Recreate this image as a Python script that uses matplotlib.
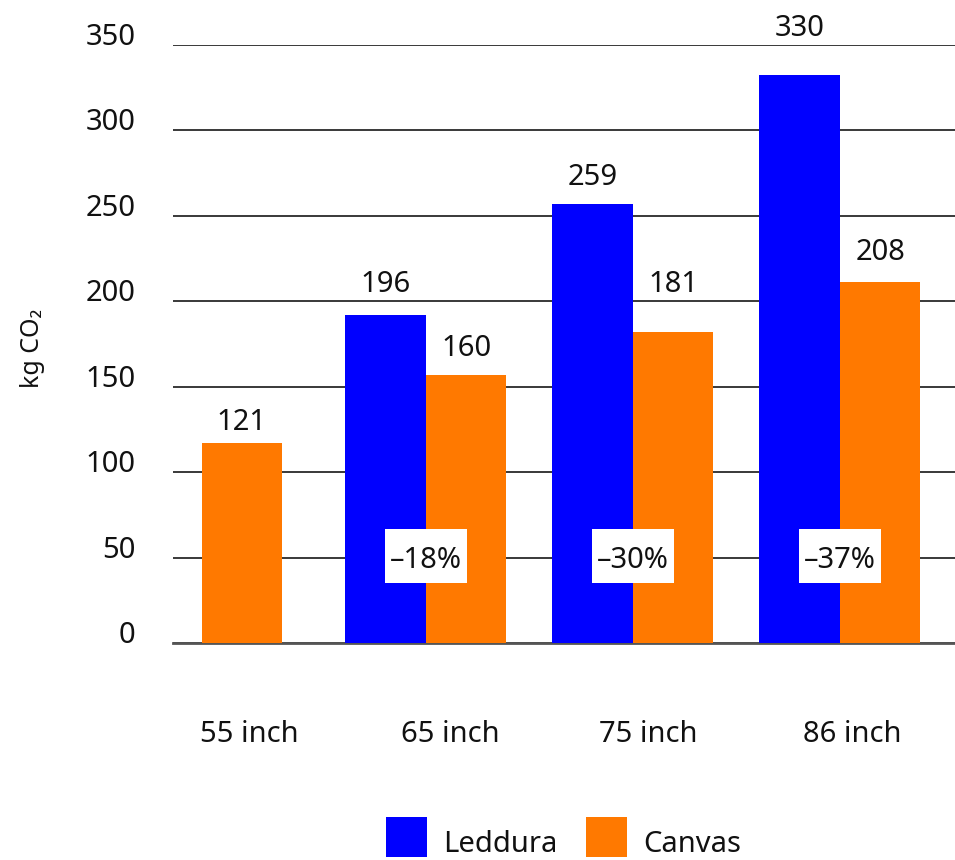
import matplotlib
matplotlib.use("Agg")
import matplotlib.pyplot as plt
from matplotlib.patches import Rectangle
import numpy as np

plt.rcParams['font.family'] = ['Noto Sans', 'DejaVu Sans']

# ---- data ----
categories = ["55 inch", "65 inch", "75 inch", "86 inch"]
leddura = [None, 192.0, 256.9, 332.4]          # bar heights
canvas = [117.0, 156.9, 182.0, 211.3]
leddura_labels = [None, "196", "259", "330"]
canvas_labels = ["121", "160", "181", "208"]
reductions = [None, "\u201318%", "\u201330%", "\u201337%"]
yticks = [0, 50, 100, 150, 200, 250, 300, 350]

# ---- layout helpers (positions, not data) ----
leddura_label_base = [None, 205.4, 268.0, 355.3]
canvas_label_base = [124.7, 168.0, 205.4, 224.2]
xlabel_pos = [0.147, 1.116, 2.072, 3.058]
solo_center = 0.111

BLUE = "#0000FF"
ORANGE = "#FF7900"
FS = 21

W, H = 955, 860
fig = plt.figure(figsize=(W / 100, H / 100), dpi=100)
ax = fig.add_axes([173 / W, (H - 643) / H, (955 - 173) / W, (643 - 45) / H])

w = 80.5 / 207
pos = np.arange(len(categories))

for i in range(len(categories)):
    if leddura[i] is None:
        cx = pos[i] + solo_center
    else:
        bx = pos[i] - w / 2
        ax.bar(bx, leddura[i], width=w, color=BLUE, zorder=3)
        ax.text(bx, leddura_label_base[i], leddura_labels[i], ha="center",
                va="baseline", fontsize=FS, color="#111111", zorder=5)
        cx = pos[i] + w / 2
    ax.bar(cx, canvas[i], width=w, color=ORANGE, zorder=3)
    ax.text(cx, canvas_label_base[i], canvas_labels[i], ha="center",
            va="baseline", fontsize=FS, color="#111111", zorder=5)
    if reductions[i] is not None:
        bw = 82 / 207
        ax.add_patch(Rectangle((pos[i] - bw / 2, 35.3), bw, 31.4,
                               facecolor="white", edgecolor="none", zorder=4))
        ax.text(pos[i], 43.9, reductions[i], ha="center", va="baseline",
                fontsize=FS, color="#111111", zorder=5)

ax.set_xlim(-0.2222, 3.5556)
ax.set_ylim(0, 350)
ax.set_xticks([])
ax.set_yticks(yticks)
ax.set_yticklabels([str(v) for v in yticks], fontsize=FS, color="#111111")
for lab in ax.get_yticklabels():
    lab.set_va("baseline")
ax.tick_params(axis="y", length=0, pad=27)
ax.yaxis.grid(True, color="#2a2a2a", linewidth=1.3, zorder=0)
ax.set_axisbelow(True)
for s in ["top", "right", "left"]:
    ax.spines[s].set_visible(False)
ax.spines["bottom"].set_color("#555555")
ax.spines["bottom"].set_linewidth(2)
ax.spines["bottom"].set_zorder(2)

for i, lab in enumerate(categories):
    ax.text(xlabel_pos[i], (643 - 742) / 598, lab, transform=ax.get_xaxis_transform(),
            ha="center", va="baseline", fontsize=FS, color="#111111")

fig.text(32 / W, (H - 348) / H, "kg CO\u2082", rotation=90, ha="center", va="center",
         fontsize=18, color="#111111")

# legend
for x0, col, name, tx in [(386, BLUE, "Leddura", 443), (586, ORANGE, "Canvas", 643)]:
    fig.add_artist(Rectangle((x0 / W, (H - 857) / H), 41 / W, 40 / H,
                             transform=fig.transFigure, facecolor=col, edgecolor="none"))
    fig.text(tx / W, 0.5 / H, name, ha="left", va="bottom", fontsize=FS, color="#111111")

fig.savefig("out.png", dpi=100)
